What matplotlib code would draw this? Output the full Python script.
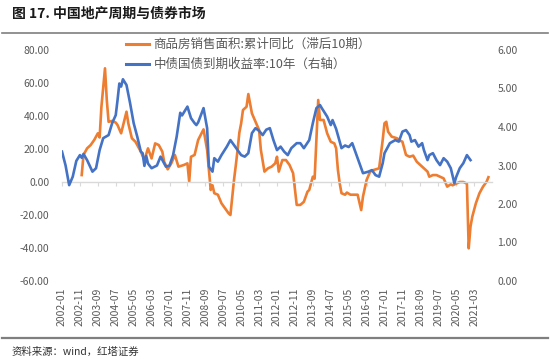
import matplotlib
matplotlib.use("Agg")
import matplotlib.pyplot as plt
from matplotlib.ticker import FormatStrFormatter

plt.rcParams['font.family'] = ['Noto Sans CJK SC', 'DejaVu Sans']
plt.rcParams['axes.unicode_minus'] = False

# months counted from 2002-01 (index 0)
sales_month = [11, 12, 14, 16, 18, 20, 21, 22, 24, 25, 26, 28, 30, 31, 33, 36, 37, 39, 41, 43,
               44, 46, 48, 50, 52, 54, 56, 57, 59, 61, 63, 65, 68, 70, 71, 72, 74, 76, 79, 81,
               83, 84, 85, 87, 89, 91, 93, 94, 96, 97, 98, 99, 100, 101, 103, 104, 106, 108, 110, 111,
               113, 115, 117, 119, 120, 121, 123, 125, 127, 129, 131, 133, 135, 137, 138, 140, 141, 143, 144, 146,
               148, 150, 152, 153, 154, 155, 156, 158, 159, 161, 163, 165, 167, 168, 170, 172, 174, 177, 179, 180,
               181, 182, 184, 187, 188, 190, 192, 194, 196, 198, 200, 202, 204, 205, 207, 209, 211, 213, 215, 217,
               218, 220, 222, 224, 226, 227, 228, 229, 231, 233, 235, 237, 238]
# 商品房销售面积:累计同比 (lag 10), %
sales_yoy = [4.2, 16.4, 20.4, 22.4, 25.5, 29.5, 27.0, 45.6, 68.9, 49.7, 36.5, 37.0, 36.0, 34.5, 29.5, 42.6, 35.6, 26.5, 24.4, 20.4,
             18.4, 13.3, 20.4, 14.3, 23.4, 22.4, 18.4, 12.3, 7.7, 11.3, 16.4, 9.3, 10.3, 11.3, 0.2, 15.3, 16.4, 25.5, 31.9, 19.4,
             -4.8, -2.0, -6.8, -7.7, -12.9, -15.9, -19.0, -20.0, 1.2, 10.0, 19.4, 30.0, 35.6, 43.6, 45.6, 53.3, 41.6, 36.5, 31.5, 19.4,
             6.3, 8.3, 9.3, 11.3, 15.3, 6.3, 13.3, 13.3, 10.3, 5.3, -13.9, -13.9, -12.0, -5.9, -4.8, 3.2, 2.0, 49.7, 37.6, 37.6,
             29.5, 24.4, 23.4, 20.4, 7.3, -0.8, -6.8, -7.7, -6.4, -7.7, -7.7, -7.7, -17.0, -8.8, 1.2, 6.3, 7.3, 8.3, 25.5, 35.6,
             36.5, 30.5, 27.5, 26.5, 25.5, 24.4, 16.4, 15.3, 16.0, 12.3, 10.3, 8.3, 6.3, 3.2, 4.2, 4.2, 3.2, 2.2, -2.8, -1.4,
             -2.0, -1.0, 0.0, 0.0, -1.0, -40.2, -27.0, -21.0, -12.9, -6.8, -2.8, 0.2, 2.9]

yield_month = [0, 2, 4, 6, 8, 10, 11, 12, 14, 17, 19, 21, 23, 26, 28, 30, 31, 32, 33, 34,
               36, 38, 40, 42, 44, 45, 46, 47, 48, 50, 53, 55, 58, 60, 62, 64, 66, 67, 70, 72,
               74, 75, 76, 79, 81, 82, 84, 85, 87, 89, 92, 94, 96, 98, 100, 102, 104, 106, 108, 110,
               112, 114, 116, 118, 120, 122, 124, 126, 128, 131, 133, 135, 138, 140, 142, 144, 145, 148, 150, 151,
               153, 155, 156, 158, 160, 162, 164, 166, 168, 171, 173, 175, 177, 179, 180, 183, 186, 188, 190, 192,
               194, 195, 197, 199, 201, 202, 204, 205, 207, 209, 211, 213, 215, 217, 219, 220, 222, 224, 226, 228]
# 中债国债到期收益率:10年, %
yield_10y = [3.36, 3.00, 2.49, 2.71, 3.12, 3.27, 3.20, 3.30, 3.14, 2.84, 2.93, 3.40, 3.71, 3.79, 4.10, 4.31, 4.70, 5.13, 5.05, 5.24,
             5.09, 4.62, 4.10, 3.75, 3.36, 3.32, 2.99, 3.25, 3.05, 2.93, 3.00, 3.23, 2.97, 3.00, 3.27, 3.75, 4.37, 4.30, 4.53, 4.23,
             4.10, 4.05, 4.12, 4.49, 3.97, 2.97, 2.84, 3.19, 3.10, 3.27, 3.49, 3.66, 3.53, 3.40, 3.27, 3.23, 3.32, 3.84, 3.97, 3.90,
             3.79, 3.93, 3.97, 3.66, 3.40, 3.49, 3.36, 3.27, 3.45, 3.58, 3.58, 3.45, 3.66, 4.10, 4.49, 4.57, 4.49, 4.27, 4.05, 4.18,
             3.95, 3.62, 3.45, 3.52, 3.48, 3.58, 3.32, 3.06, 2.80, 2.84, 2.88, 2.75, 2.71, 3.06, 3.32, 3.58, 3.66, 3.62, 3.88, 3.92,
             3.79, 3.62, 3.66, 3.49, 3.58, 3.40, 3.14, 3.27, 3.32, 3.14, 3.01, 3.19, 3.10, 2.93, 2.54, 2.70, 2.93, 3.06, 3.27, 3.14]

tick_labels = ['2002-01', '2002-11', '2003-09', '2004-07', '2005-05', '2006-03', '2007-01', '2007-11',
               '2008-09', '2009-07', '2010-05', '2011-03', '2012-01', '2012-11', '2013-09', '2014-07',
               '2015-05', '2016-03', '2017-01', '2017-11', '2018-09', '2019-07', '2020-05', '2021-03']
tick_pos = list(range(0, 240, 10))

ORANGE = '#ED7D31'
BLUE = '#4472C4'
GRAY = '#595959'

fig = plt.figure(figsize=(5.5, 3.63), dpi=100)
ax = fig.add_axes([62 / 550, 82 / 363, 430 / 550, 231 / 363])
ax2 = ax.twinx()

l1, = ax.plot(sales_month, sales_yoy, color=ORANGE, lw=1.9, solid_joinstyle='round')
l2, = ax2.plot(yield_month, yield_10y, color=BLUE, lw=1.9, solid_joinstyle='round')

ax.set_xlim(0, 240)
ax.set_ylim(-60, 80)
ax2.set_ylim(0, 6)
ax.set_yticks(range(-60, 81, 20))
ax2.set_yticks(range(0, 7))
ax.yaxis.set_major_formatter(FormatStrFormatter('%.2f'))
ax2.yaxis.set_major_formatter(FormatStrFormatter('%.2f'))

for a in (ax, ax2):
    for s in a.spines.values():
        s.set_visible(False)
ax.tick_params(axis='y', length=0, pad=9, labelsize=7.5, labelcolor=GRAY)
ax2.tick_params(axis='y', length=0, pad=4, labelsize=7.5, labelcolor=GRAY)

# category axis sits on the zero line
ax.spines['bottom'].set_visible(True)
ax.spines['bottom'].set_position(('data', 0))
ax.spines['bottom'].set_color('#D9D9D9')
ax.spines['bottom'].set_linewidth(1.0)
ax.set_xticks(tick_pos)
ax.tick_params(axis='x', direction='out', length=3, color='#D9D9D9', labelbottom=False)

sec = ax.secondary_xaxis(0)
sec.set_xticks(tick_pos)
sec.set_xticklabels(tick_labels, rotation=90)
sec.tick_params(length=0, pad=5, labelsize=7.5, labelcolor=GRAY)
sec.spines['bottom'].set_visible(False)

leg = fig.legend([l1, l2], ['商品房销售面积:累计同比（滞后10期）', '中债国债到期收益率:10年（右轴）'],
                 loc='upper left', bbox_to_anchor=(126 / 550, 1 - 38 / 363), frameon=False,
                 fontsize=9, handlelength=1.8, handletextpad=0.4, labelspacing=0.55,
                 borderaxespad=0, borderpad=0)
for t in leg.get_texts():
    t.set_color(GRAY)
for h in leg.get_lines():
    h.set_linewidth(2.2)

# title, rules and source
fig.text(12 / 550, 1 - 14 / 363, '图 17. 中国地产周期与债券市场', fontsize=10, fontweight='bold',
         color='#1a1a1a', va='center', ha='left')
fig.add_artist(plt.Line2D([2 / 550, 548 / 550], [1 - 33 / 363] * 2, color='#7f7f7f', lw=1.2))
fig.add_artist(plt.Line2D([2 / 550, 548 / 550], [1 - 338 / 363] * 2, color='#7f7f7f', lw=1.6))
fig.text(12 / 550, 1 - 352 / 363, '资料来源：wind，红塔证券', fontsize=7.5, color='#333333',
         va='center', ha='left')

fig.savefig('out.png', dpi=100)
